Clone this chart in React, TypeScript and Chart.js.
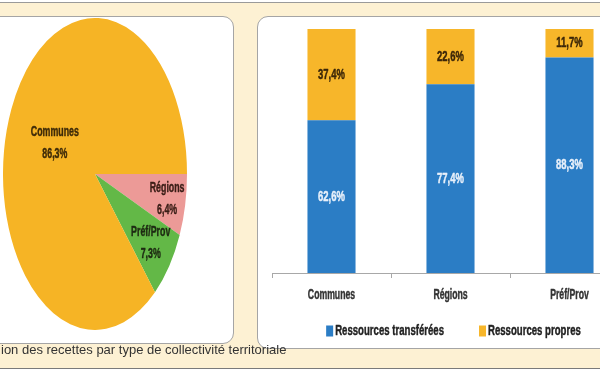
import { useEffect, useRef } from "react";
import { Chart, registerables } from "chart.js";

Chart.register(...registerables);

// ---- Data ----
const pieLabels = ["Régions", "Préf/Prov", "Communes"];
const pieValues = [6.4, 7.3, 86.3];
const pieColors = ["#ec9a97", "#63b847", "#f6b425"];

const barCategories = ["Communes", "Régions", "Préf/Prov"];
const seriesNames = ["Ressources transférées", "Ressources propres"];
const transferredValues = [62.6, 77.4, 88.3];
const ownValues = [37.4, 22.6, 11.7];
const seriesColors = ["#2b7dc5", "#f7b62a"];

const captionText = "ion des recettes par type de collectivité territoriale";

// ---- Style ----
const FONT = '"Liberation Sans", Arial, sans-serif';
const fmt = (v: number) => v.toFixed(1).replace(".", ",") + "%";

// condensed, heavy lettering like the original
function narrowText(
  ctx: CanvasRenderingContext2D,
  text: string,
  x: number,
  y: number,
  squeeze: number
) {
  ctx.save();
  ctx.translate(x, y);
  ctx.scale(squeeze, 1);
  ctx.strokeStyle = ctx.fillStyle as string;
  ctx.lineWidth = 0.45;
  ctx.lineJoin = "round";
  ctx.strokeText(text, 0, 0);
  ctx.fillText(text, 0, 0);
  ctx.restore();
}

// label distance (fraction of radius) per pie slice, in drawing order
const pieLabelRadius = [0.8, 0.75, 0.48];
const pieLabelColors = ["#3a1d16", "#1d2a12", "#3d2a08"];

const ellipsePlugin = {
  id: "ellipsePie",
  beforeDatasetsDraw(chart: any) {
    const { ctx, chartArea } = chart;
    const cy = (chartArea.top + chartArea.bottom) / 2;
    const r = Math.min(chartArea.width, chartArea.height) / 2;
    const s = chartArea.height / 2 / r;
    ctx.save();
    ctx.translate(0, cy);
    ctx.scale(1, s);
    ctx.translate(0, -cy);
  },
  afterDatasetsDraw(chart: any) {
    const { ctx, chartArea } = chart;
    ctx.restore();
    const cy = (chartArea.top + chartArea.bottom) / 2;
    const r = Math.min(chartArea.width, chartArea.height) / 2;
    const s = chartArea.height / 2 / r;
    const meta = chart.getDatasetMeta(0);
    const ds = chart.data.datasets[0];
    ctx.save();
    ctx.font = `bold 14px ${FONT}`;
    ctx.textAlign = "center";
    ctx.textBaseline = "middle";
    meta.data.forEach((el: any, i: number) => {
      const p = el.getProps(["x", "y", "startAngle", "endAngle", "outerRadius"], true);
      const mid = (p.startAngle + p.endAngle) / 2;
      const f = pieLabelRadius[i];
      const px = p.x + Math.cos(mid) * p.outerRadius * f;
      const py = cy + Math.sin(mid) * p.outerRadius * f * s;
      ctx.fillStyle = pieLabelColors[i];
      narrowText(ctx, chart.data.labels[i], px, py - 11, 0.63);
      narrowText(ctx, fmt(ds.data[i]), px, py + 11, 0.63);
    });
    ctx.restore();
  },
};

const barTextPlugin = {
  id: "barTexts",
  afterDraw(chart: any) {
    const { ctx, chartArea } = chart;
    ctx.save();
    ctx.textAlign = "center";
    ctx.textBaseline = "middle";

    // value labels inside the stacked segments
    ctx.font = `bold 15px ${FONT}`;
    chart.data.datasets.forEach((ds: any, di: number) => {
      const meta = chart.getDatasetMeta(di);
      ctx.fillStyle = di === 0 ? "#e8f0fa" : "#3b2608";
      meta.data.forEach((el: any, i: number) => {
        const p = el.getProps(["x", "y", "base"], true);
        narrowText(ctx, fmt(ds.data[i]), p.x, (p.y + p.base) / 2, 0.63);
      });
    });

    // category labels under the x axis
    const xScale = chart.scales.x;
    ctx.font = `bold 14px ${FONT}`;
    ctx.fillStyle = "#333";
    chart.data.labels.forEach((lab: string, i: number) => {
      narrowText(ctx, lab, xScale.getPixelForValue(i), chartArea.bottom + 22, 0.62);
    });

    // legend
    const sq = 0.64;
    ctx.font = `bold 15px ${FONT}`;
    ctx.textAlign = "left";
    const boxW = 7;
    const boxH = 11;
    const gap = 2;
    const itemGap = 35;
    const items = chart.data.datasets.map((d: any) => ({
      text: d.label,
      color: d.backgroundColor,
      w: ctx.measureText(d.label).width * sq,
    }));
    const total =
      items.reduce((a: number, it: any) => a + boxW + gap + it.w, 0) + itemGap * (items.length - 1);
    let x = (chartArea.left + chartArea.right) / 2 - total / 2 + 3;
    const y = chartArea.bottom + 58;
    items.forEach((it: any) => {
      ctx.fillStyle = it.color;
      ctx.fillRect(x, y - boxH / 2, boxW, boxH);
      x += boxW + gap;
      ctx.fillStyle = "#222";
      narrowText(ctx, it.text, x, y, sq);
      x += it.w + itemGap;
    });
    ctx.restore();
  },
};

export default function App() {
  const pieRef = useRef<HTMLCanvasElement>(null);
  const barRef = useRef<HTMLCanvasElement>(null);

  useEffect(() => {
    const pie = new Chart(pieRef.current!, {
      type: "pie",
      data: {
        labels: pieLabels,
        datasets: [{ data: pieValues, backgroundColor: pieColors, borderWidth: 0 }],
      },
      options: {
        animation: false,
        responsive: true,
        maintainAspectRatio: false,
        rotation: 90,
        layout: { padding: 0 },
        plugins: { legend: { display: false }, tooltip: { enabled: false } },
      },
      plugins: [ellipsePlugin],
    } as any);

    const bar = new Chart(barRef.current!, {
      type: "bar",
      data: {
        labels: barCategories,
        datasets: [
          {
            label: seriesNames[0],
            data: transferredValues,
            backgroundColor: seriesColors[0],
            barPercentage: 0.8,
            categoryPercentage: 0.505,
          },
          {
            label: seriesNames[1],
            data: ownValues,
            backgroundColor: seriesColors[1],
            barPercentage: 0.8,
            categoryPercentage: 0.505,
          },
        ],
      },
      options: {
        animation: false,
        responsive: true,
        maintainAspectRatio: false,
        layout: { padding: { left: 14, right: 9, top: 9, bottom: 67 } },
        plugins: { legend: { display: false }, tooltip: { enabled: false } },
        scales: {
          x: {
            stacked: true,
            grid: { drawOnChartArea: false, drawTicks: true, tickLength: 5, color: "#a8a8a8" },
            border: { color: "#a8a8a8", width: 1 },
            ticks: { display: false },
            afterFit: (scale: any) => {
              scale.height = 5;
            },
          },
          y: { stacked: true, display: false, min: 0, max: 100 },
        },
      },
      plugins: [barTextPlugin],
    } as any);

    return () => {
      pie.destroy();
      bar.destroy();
    };
  }, []);

  return (
    <div
      style={{
        position: "fixed",
        left: 0,
        top: 0,
        width: 600,
        height: 372,
        overflow: "hidden",
        background: "#ffffff",
      }}
    >
      <div style={{ position: "absolute", left: 0, top: 3, width: 600, height: 365, background: "#fdf1d3" }} />
      <div style={{ position: "absolute", left: 0, top: 2, width: 600, height: 1, background: "#9a9a9a" }} />
      <div style={{ position: "absolute", left: 0, top: 368, width: 600, height: 1, background: "#7a7a7a" }} />
      <div
        style={{
          position: "absolute",
          left: -20,
          top: 16,
          width: 254,
          height: 328,
          boxSizing: "border-box",
          background: "#ffffff",
          border: "1px solid #a5a5a5",
          borderRadius: 11,
        }}
      />
      <div
        style={{
          position: "absolute",
          left: 257,
          top: 16,
          width: 400,
          height: 333,
          boxSizing: "border-box",
          background: "#ffffff",
          border: "1px solid #a5a5a5",
          borderRadius: 11,
        }}
      />
      <div style={{ position: "absolute", left: 3, top: 18, width: 184, height: 312 }}>
        <canvas ref={pieRef} />
      </div>
      <div style={{ position: "absolute", left: 258, top: 20, width: 380, height: 325 }}>
        <canvas ref={barRef} />
      </div>
      <div
        style={{
          position: "absolute",
          left: 1,
          top: 343,
          whiteSpace: "nowrap",
          fontFamily: '"Liberation Sans", Arial, Helvetica, sans-serif',
          fontSize: 13,
          lineHeight: "14px",
          color: "#333",
        }}
      >
        {captionText}
      </div>
    </div>
  );
}
